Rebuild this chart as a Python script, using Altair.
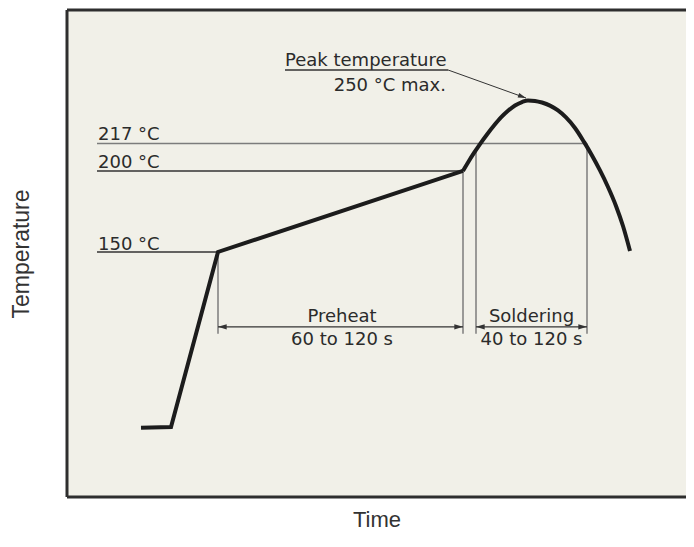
import altair as alt
import pandas as pd

# ---- data (time in arbitrary units, temperature in °C) ----
ramp_t = [74, 104, 151, 396]
ramp_T = [41.5, 42.0, 150, 200]

reflow_t = [396, 401, 407, 413, 420, 427, 434, 441, 448, 455, 461, 468,
            475, 483, 491, 499, 508, 517, 525, 533, 541, 549, 556, 563]
reflow_T = [200.0, 205.2, 211.1, 216.6, 222.5, 228.0, 233.0, 237.1, 240.4, 242.5, 243.5, 243.2,
            242.2, 240.3, 237.3, 233.0, 226.5, 217.9, 209.5, 200.3, 190.1, 178.4, 166.0, 150.6]

level_names = ["217 °C", "200 °C", "150 °C"]
level_T = [217, 200, 150]
level_start = [30, 30, 30]
level_end = [520, 396, 151]
level_tone = ["gray", "dark", "dark"]
level_label_t = [31, 31, 31]
level_label_T = [219.1, 201.7, 151.3]

ext_t = [151, 396, 409, 520]
ext_top = [150, 200, 212.9, 217]
ext_bottom = [99.5, 99.5, 99.5, 99.5]

span_names = ["Preheat", "Soldering"]
span_ranges = ["60 to 120 s", "40 to 120 s"]
span_start = [151, 409]
span_end = [396, 520]
span_T = [103.8, 103.8]
span_center = [275, 464.5]
span_name_T = [106.5, 106.5]
span_range_T = [92.6, 92.4]

peak_texts = ["Peak temperature", "250 °C max."]
peak_text_t = [218, 379]
peak_text_T = [264.7, 249.5]
peak_text_align = ["left", "right"]
underline_t = [218, 381]
underline_T = [262.3, 262.3]
leader_t = [381, 459]
leader_T = [262.3, 245.0]
leader_angle = 20

T_MIN, T_MAX = -1.2, 299.3
t_MIN, t_MAX = 0, 619

TEXT = "#2b2b2b"
DARK = "#333333"
GRAY = "#7c7c7c"
BG = "#f1f0e8"
FONT = "DejaVu Sans"

xs = alt.Scale(domain=[t_MIN, t_MAX], nice=False, zero=False)
ys = alt.Scale(domain=[T_MIN, T_MAX], nice=False, zero=False)

ramp = pd.DataFrame({"t": ramp_t, "T": ramp_T})
reflow = pd.DataFrame({"t": reflow_t, "T": reflow_T})
levels = pd.DataFrame({"name": level_names, "T": level_T, "t1": level_start,
                       "t2": level_end, "tone": level_tone,
                       "lt": level_label_t, "lT": level_label_T})
exts = pd.DataFrame({"t": ext_t, "T1": ext_top, "T2": ext_bottom})
spans = pd.DataFrame({"name": span_names, "range": span_ranges, "t1": span_start,
                      "t2": span_end, "T": span_T, "tc": span_center,
                      "nT": span_name_T, "rT": span_range_T})
peak = pd.DataFrame({"text": peak_texts, "t": peak_text_t, "T": peak_text_T,
                     "align": peak_text_align})
underline = pd.DataFrame({"t1": [underline_t[0]], "t2": [underline_t[1]], "T": [underline_T[0]]})
leader = pd.DataFrame({"t": leader_t, "T": leader_T})
tip = pd.DataFrame({"t": [leader_t[1]], "T": [leader_T[1]], "a": [leader_angle]})

x_axis = alt.Axis(title="Time", labels=False, ticks=False, domain=False, grid=False,
                  titleFont="Liberation Sans", titleFontSize=22, titleFontWeight="normal",
                  titleColor=DARK, titlePadding=12)
y_axis = alt.Axis(title="Temperature", labels=False, ticks=False, domain=False, grid=False,
                  titleFont="Liberation Sans", titleFontSize=23, titleFontWeight="normal",
                  titleColor=DARK, titlePadding=34)

# frame (left, top, bottom edges)
frame = pd.DataFrame({"t1": [t_MIN, t_MIN, t_MIN], "t2": [t_MIN, t_MAX, t_MAX],
                      "T1": [T_MIN, T_MAX, T_MIN], "T2": [T_MAX, T_MAX, T_MIN]})
frame_layer = alt.Chart(frame).mark_rule(color="#2e2e2e", strokeWidth=3).encode(
    x=alt.X("t1:Q", scale=xs, axis=x_axis), x2="t2:Q",
    y=alt.Y("T1:Q", scale=ys, axis=y_axis), y2="T2:Q")

level_lines = alt.Chart(levels).mark_rule(strokeWidth=1.5).encode(
    x=alt.X("t1:Q", scale=xs), x2="t2:Q", y=alt.Y("T:Q", scale=ys),
    color=alt.Color("tone:N", scale=alt.Scale(domain=["gray", "dark"], range=[GRAY, DARK]),
                    legend=None))
level_labels = alt.Chart(levels).mark_text(align="left", baseline="alphabetic", font=FONT,
                                           fontSize=18, color=TEXT).encode(
    x=alt.X("lt:Q", scale=xs), y=alt.Y("lT:Q", scale=ys), text="name:N")

ext_lines = alt.Chart(exts).mark_rule(color=GRAY, strokeWidth=1.5).encode(
    x=alt.X("t:Q", scale=xs), y=alt.Y("T1:Q", scale=ys), y2="T2:Q")

span_lines = alt.Chart(spans).mark_rule(color=DARK, strokeWidth=1.2).encode(
    x=alt.X("t1:Q", scale=xs), x2="t2:Q", y=alt.Y("T:Q", scale=ys))
left_heads = alt.Chart(spans).mark_point(shape="M0,0L1,-0.3L1,0.3Z", filled=True, size=300,
                                         color=DARK, opacity=1, strokeWidth=0).encode(
    x=alt.X("t1:Q", scale=xs), y=alt.Y("T:Q", scale=ys))
right_heads = alt.Chart(spans).mark_point(shape="M0,0L-1,-0.3L-1,0.3Z", filled=True, size=300,
                                          color=DARK, opacity=1, strokeWidth=0).encode(
    x=alt.X("t2:Q", scale=xs), y=alt.Y("T:Q", scale=ys))
span_names_l = alt.Chart(spans).mark_text(align="center", baseline="alphabetic", font=FONT,
                                          fontSize=18, color=TEXT).encode(
    x=alt.X("tc:Q", scale=xs), y=alt.Y("nT:Q", scale=ys), text="name:N")
span_ranges_l = alt.Chart(spans).mark_text(align="center", baseline="alphabetic", font=FONT,
                                           fontSize=18, color=TEXT).encode(
    x=alt.X("tc:Q", scale=xs), y=alt.Y("rT:Q", scale=ys), text="range:N")

peak_left = alt.Chart(peak[peak["align"] == "left"]).mark_text(
    align="left", baseline="alphabetic", font=FONT, fontSize=18, color=TEXT).encode(
    x=alt.X("t:Q", scale=xs), y=alt.Y("T:Q", scale=ys), text="text:N")
peak_right = alt.Chart(peak[peak["align"] == "right"]).mark_text(
    align="right", baseline="alphabetic", font=FONT, fontSize=18, color=TEXT).encode(
    x=alt.X("t:Q", scale=xs), y=alt.Y("T:Q", scale=ys), text="text:N")
underline_l = alt.Chart(underline).mark_rule(color=DARK, strokeWidth=1.5).encode(
    x=alt.X("t1:Q", scale=xs), x2="t2:Q", y=alt.Y("T:Q", scale=ys))
leader_l = alt.Chart(leader).mark_line(color=DARK, strokeWidth=1).encode(
    x=alt.X("t:Q", scale=xs), y=alt.Y("T:Q", scale=ys))
tip_l = alt.Chart(tip).mark_point(shape="M0,0L-1,-0.3L-1,0.3Z", filled=True, size=260,
                                  color=DARK, opacity=1, strokeWidth=0).encode(
    x=alt.X("t:Q", scale=xs), y=alt.Y("T:Q", scale=ys),
    angle=alt.Angle("a:Q", scale=None))

ramp_l = alt.Chart(ramp).mark_line(color="#1c1c1c", strokeWidth=4, strokeJoin="miter").encode(
    x=alt.X("t:Q", scale=xs), y=alt.Y("T:Q", scale=ys), order="t:Q")
reflow_l = alt.Chart(reflow).mark_line(color="#1c1c1c", strokeWidth=4,
                                       interpolate="monotone").encode(
    x=alt.X("t:Q", scale=xs), y=alt.Y("T:Q", scale=ys), order="t:Q")

chart = alt.layer(
    frame_layer, level_lines, ext_lines, span_lines, left_heads, right_heads,
    level_labels, span_names_l, span_ranges_l, peak_left, peak_right, underline_l,
    leader_l, tip_l, ramp_l, reflow_l
).properties(
    width=619, height=487,
    padding={"left": 59, "top": 2, "right": 0, "bottom": 48},
    autosize=alt.AutoSizeParams(type="none"),
    background="white",
).configure_view(fill=BG, stroke="transparent")

chart.save("out.html", embed_options={"renderer": "svg", "actions": False})
